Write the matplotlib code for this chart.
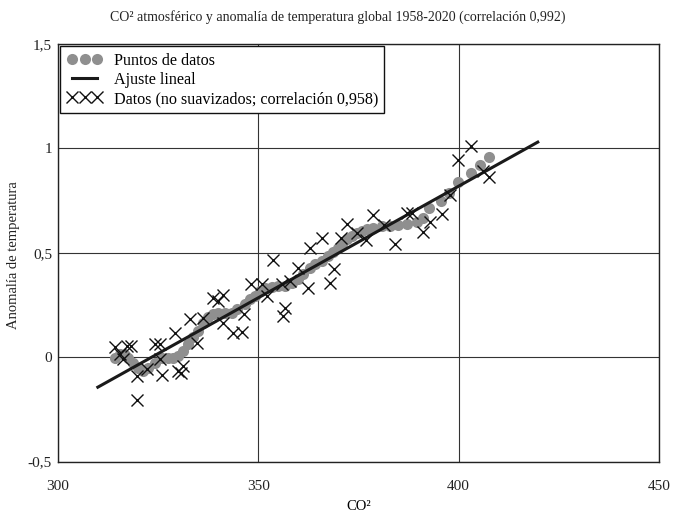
import matplotlib
matplotlib.use("Agg")
import matplotlib.pyplot as plt
from matplotlib.ticker import FixedLocator

plt.rcParams['font.family'] = ['Liberation Serif', 'DejaVu Serif']

# Smoothed data points (CO2 ppm, temperature anomaly)
dots_co2 = [314.22, 315.47, 316.72, 317.47, 318.72, 319.96, 321.21, 322.46, 324.21, 325.96,
            327.45, 328.70, 329.95, 331.19, 332.44, 333.69, 334.94, 336.18, 337.43, 338.68,
            339.93, 341.68, 343.42, 344.67, 346.67, 347.92, 349.16, 350.41, 351.66, 353.40,
            354.91, 356.65, 358.39, 359.90, 361.15, 362.89, 364.14, 365.89, 367.38, 368.63,
            369.88, 370.88, 372.13, 373.37, 374.62, 375.87, 377.12, 378.61, 380.86, 382.85,
            384.85, 387.10, 389.59, 391.09, 392.58, 395.58, 397.58, 399.82, 403.07, 405.32,
            407.57]
dots_temp = [-0.005, 0.014, 0.010, -0.005, -0.029, -0.053, -0.067, -0.053, -0.029, -0.005,
             -0.005, -0.005, 0.005, 0.029, 0.063, 0.096, 0.125, 0.163, 0.192, 0.207,
             0.212, 0.212, 0.212, 0.231, 0.255, 0.279, 0.293, 0.317, 0.332, 0.337,
             0.341, 0.341, 0.356, 0.375, 0.399, 0.428, 0.447, 0.462, 0.486, 0.505,
             0.524, 0.543, 0.567, 0.582, 0.596, 0.606, 0.615, 0.620, 0.630, 0.630,
             0.635, 0.639, 0.649, 0.668, 0.712, 0.750, 0.784, 0.841, 0.880, 0.918,
             0.957]

# Unsmoothed data
raw_co2 = [314.22, 315.47, 316.22, 317.21, 318.21, 319.72, 319.72, 322.21, 324.21, 325.46,
           325.46, 325.96, 329.20, 329.95, 331.19, 330.70, 332.94, 334.69, 336.18, 338.68,
           339.93, 341.17, 341.17, 343.67, 345.92, 346.42, 348.16, 350.91, 352.16, 353.66,
           355.90, 357.90, 356.16, 356.65, 359.90, 362.38, 362.89, 365.89, 367.88, 368.88,
           370.63, 372.13, 374.62, 376.87, 378.61, 381.36, 384.10, 387.10, 388.35, 391.09,
           392.84, 395.83, 397.83, 399.82, 403.07, 406.06, 407.57]
raw_temp = [0.048, 0.014, -0.010, 0.053, 0.053, -0.091, -0.207, -0.058, 0.063, 0.063,
            -0.010, -0.087, 0.115, -0.067, -0.043, -0.077, 0.183, 0.067, 0.188, 0.284,
            0.269, 0.298, 0.163, 0.115, 0.120, 0.207, 0.351, 0.351, 0.293, 0.466,
            0.351, 0.365, 0.197, 0.236, 0.428, 0.332, 0.524, 0.572, 0.356, 0.423,
            0.572, 0.639, 0.596, 0.563, 0.683, 0.635, 0.543, 0.692, 0.692, 0.601,
            0.649, 0.688, 0.779, 0.942, 1.010, 0.894, 0.861]

# Linear fit endpoints
fit_co2 = [309.94, 419.74]
fit_temp = [-0.144, 1.03]

x_ticks = [300, 350, 400, 450]
y_ticks = [-0.5, 0, 0.5, 1, 1.5]
y_tick_labels = ['-0,5', '0', '0,5', '1', '1,5']

title = 'CO² atmosférico y anomalía de temperatura global 1958-2020 (correlación 0,992)'

fig = plt.figure(figsize=(6.75, 5.15), dpi=100)
ax = fig.add_axes([58 / 675, 1 - 461.5 / 515, 601 / 675, 417.5 / 515])

ax.plot(dots_co2, dots_temp, 'o', color='#8f8f8f', markersize=8, markeredgewidth=0,
        label='Puntos de datos', zorder=3)
ax.plot(fit_co2, fit_temp, '-', color='#1a1a1a', lw=2.2, label='Ajuste lineal', zorder=4)
ax.plot(raw_co2, raw_temp, 'x', color='#111111', markersize=8, markeredgewidth=1.0,
        label='Datos (no suavizados; correlación 0,958)', zorder=5)

ax.set_xlim(300, 450)
ax.set_ylim(-0.5, 1.5)
ax.xaxis.set_major_locator(FixedLocator(x_ticks))
ax.yaxis.set_major_locator(FixedLocator(y_ticks))
ax.set_yticklabels(y_tick_labels)
ax.tick_params(length=0, labelsize=11, colors='#222222')
ax.tick_params(axis='x', pad=13.5)
ax.tick_params(axis='y', pad=4.3)
ax.grid(True, color='#333333', lw=0.8)
ax.set_axisbelow(True)
for s in ax.spines.values():
    s.set_color('#222222')
    s.set_linewidth(1.0)

ax.set_xlabel('CO²', fontsize=10.5, labelpad=5)
fig.text(14 / 675, 0.505, 'Anomalía de temperatura', rotation=90, ha='center', va='center',
         fontsize=10.5, color='#222222')
fig.text(0.5, 0.967, title, ha='center', va='center', fontsize=10, color='#222222')

leg = ax.legend(loc='upper left', numpoints=3, handlelength=2.2, fontsize=11.6,
                fancybox=False, framealpha=1, edgecolor='#111111', borderaxespad=0.15,
                borderpad=0.4, labelspacing=0.19, handletextpad=0.7)
leg.get_frame().set_linewidth(1.0)

fig.savefig('out.png', dpi=100)
